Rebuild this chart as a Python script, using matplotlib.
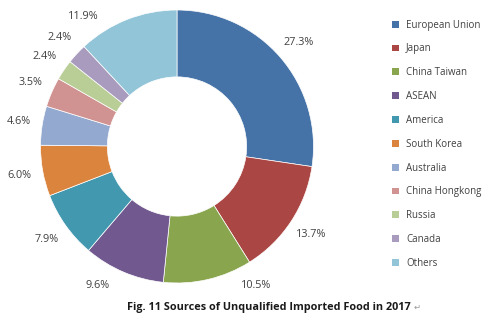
import matplotlib
matplotlib.use("Agg")
import numpy as np
import matplotlib.pyplot as plt
from matplotlib.patches import Patch

plt.rcParams['font.family'] = ['Open Sans', 'DejaVu Sans']

# data
regions = ['European Union', 'Japan', 'China Taiwan', 'ASEAN', 'America',
           'South Korea', 'Australia', 'China Hongkong', 'Russia', 'Canada', 'Others']
shares = [27.3, 13.7, 10.5, 9.6, 7.9, 6.0, 4.6, 3.5, 2.4, 2.4, 11.9]
colors = ['#4572A7', '#AA4643', '#89A54E', '#71588F', '#4198AF', '#DB843D',
          '#93A9CF', '#D19392', '#B9CD96', '#A99BBD', '#92C5D8']
title = 'Fig. 11 Sources of Unqualified Imported Food in 2017'

PX = 136.5  # pixels per data unit (pie radius)

fig = plt.figure(figsize=(4.97, 3.26), dpi=100)
ax = fig.add_axes([0, 0, 1, 1])
ax.axis('off')

wedges, _ = ax.pie(
    shares, colors=colors, startangle=90, counterclock=False,
    radius=1.0, wedgeprops=dict(width=0.49, edgecolor='white', linewidth=0.5))

# percentage labels on a ring outside the donut; slide along the ring
# when they would leave the picture at top or bottom
D = 160 / PX
top, bottom = 130 / PX, -139 / PX
for w, v in zip(wedges, shares):
    th = np.deg2rad((w.theta1 + w.theta2) / 2)
    s = np.sin(th)
    if s * D > top or s * D < bottom:
        lim = top if s > 0 else bottom
        a = np.arcsin(lim / D)
        th = a if np.cos(th) > 0 else np.pi - a
    ax.text(D * np.cos(th), D * np.sin(th), f'{v:.1f}%', ha='center', va='center',
            fontsize=7.8, color='#404040')

# pie centre at pixel (177, 146.5)
ax.set_xlim(-177 / PX, (497 - 177) / PX)
ax.set_ylim(-(326 - 146.5) / PX, 146.5 / PX)
ax.set_aspect('auto')

handles = [Patch(facecolor=c, edgecolor='none') for c in colors]
leg = fig.legend(handles, regions, loc='upper left', bbox_to_anchor=(0.781, 0.952),
                 frameon=False, fontsize=7, handlelength=0.7, handleheight=0.7,
                 handletextpad=0.75, labelspacing=1.32, borderaxespad=0)
for t in leg.get_texts():
    t.set_color('#404040')

fig.text(0.540, 0.058, title, ha='center', va='center', fontsize=7.8, fontweight='bold',
         color='#1a1a1a')
fig.text(0.832, 0.056, '\u21b5', ha='left', va='center', fontsize=6,
         color='#999999', family=['DejaVu Sans'])

fig.savefig('out.png', dpi=100)
